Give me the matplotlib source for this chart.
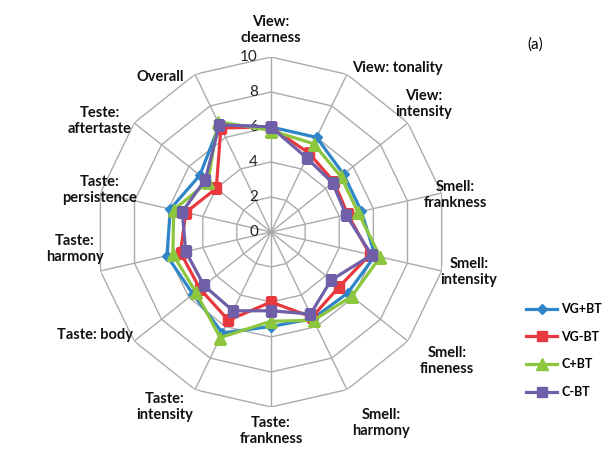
import numpy as np
import matplotlib.pyplot as plt
from matplotlib.lines import Line2D
import matplotlib.transforms as mtransforms

plt.rcParams['font.family'] = ['Lato', 'DejaVu Sans']

# kategoriler (saat yonunde, ustten baslayarak)
categories = ['View:\nclearness', 'View: tonality', 'View:\nintensity',
              'Smell:\nfrankness', 'Smell:\nintensity', 'Smell:\nfineness',
              'Smell:\nharmony', 'Taste:\nfrankness', 'Taste:\nintensity',
              'Taste: body', 'Taste:\nharmony', 'Taste:\npersistence',
              'Teste:\naftertaste', 'Overall']

series_names = ['VG+BT', 'VG-BT', 'C+BT', 'C-BT']
vg_bt = [6.0, 6.0, 5.3, 5.3, 6.1, 5.6, 5.5, 5.4, 6.4, 5.7, 6.1, 5.9, 5.2, 6.8]
vg_nbt = [6.0, 5.0, 4.6, 4.5, 5.8, 5.0, 5.4, 4.0, 5.6, 5.2, 5.3, 5.0, 4.0, 6.6]
c_bt = [5.8, 5.6, 5.1, 5.1, 6.4, 5.9, 5.6, 5.1, 6.7, 5.5, 5.75, 5.7, 4.6, 7.0]
c_nbt = [6.0, 4.7, 4.5, 4.4, 5.9, 4.4, 5.2, 4.5, 5.0, 4.9, 5.0, 5.2, 4.8, 6.8]

rticks = [0, 2, 4, 6, 8, 10]

colors = ['#2E86C8', '#E8393F', '#8CC63E', '#6E5FA8']
markers = ['D', 's', '^', 's']
msizes = [5.5, 7.5, 8.5, 7]

# etiket merkezleri (piksel)
label_xy = [(271, 30), (397, 68), (424, 104), (455, 195), (469, 272),
            (447, 361), (381, 423), (271, 431), (165, 407), (95, 335),
            (75, 249), (100, 190), (100, 121), (160, 77)]

W, H = 608, 453
fig = plt.figure(figsize=(W / 100, H / 100), dpi=100)
cx, cy, R = 271, 232, 175
ax = fig.add_axes([(cx - R) / W, (H - cy - R) / H, 2 * R / W, 2 * R / H], polar=True)
ax.set_theta_zero_location('N')
ax.set_theta_direction(-1)
ax.set_ylim(0, 10)
ax.grid(False)
ax.spines['polar'].set_visible(False)
ax.set_xticks([])
ax.set_yticks([])
ax.patch.set_visible(False)

n = len(categories)
ang = np.linspace(0, 2 * np.pi, n, endpoint=False)
ang_c = np.append(ang, ang[0])

grid_col = '#ABABAB'
for r in rticks[1:]:
    ax.plot(ang_c, [r] * (n + 1), color=grid_col, lw=1.0, zorder=1)
for a in ang:
    ax.plot([a, a], [0, 10], color=grid_col, lw=1.0, zorder=1)

# radyal eksen etiketleri
off = mtransforms.offset_copy(ax.transData, fig=fig, x=-13, y=0, units='dots')
for r in rticks:
    ax.text(0, r, str(r), transform=off, ha='right', va='center',
            fontsize=11, color='#222222')

all_series = [vg_bt, vg_nbt, c_bt, c_nbt]
for i, vals in enumerate(all_series):
    v = np.append(vals, vals[0])
    ax.plot(ang_c, v, color=colors[i], lw=2.3, marker=markers[i],
            ms=msizes[i], zorder=3 + i, label=series_names[i])

for lab, (x, y) in zip(categories, label_xy):
    fig.text(x / W, 1 - y / H, lab, ha='center', va='center',
             multialignment='center', fontsize=10.5, fontweight='bold',
             color='#111111', linespacing=1.2)

fig.text(535 / W, 1 - 45 / H, '(a)', ha='center', va='center', fontsize=11)

handles = [Line2D([0], [0], color=colors[i], lw=2.3, marker=markers[i],
                  ms=msizes[i]) for i in range(4)]
fig.legend(handles, series_names, loc='upper left',
           bbox_to_anchor=(526 / W, 1 - 303 / H), frameon=False,
           prop={'weight': 'bold', 'size': 9}, handlelength=2.5,
           handletextpad=0.3, labelspacing=1.25, borderpad=0,
           borderaxespad=0, numpoints=1)

fig.savefig('out.png', dpi=100, facecolor='white')
